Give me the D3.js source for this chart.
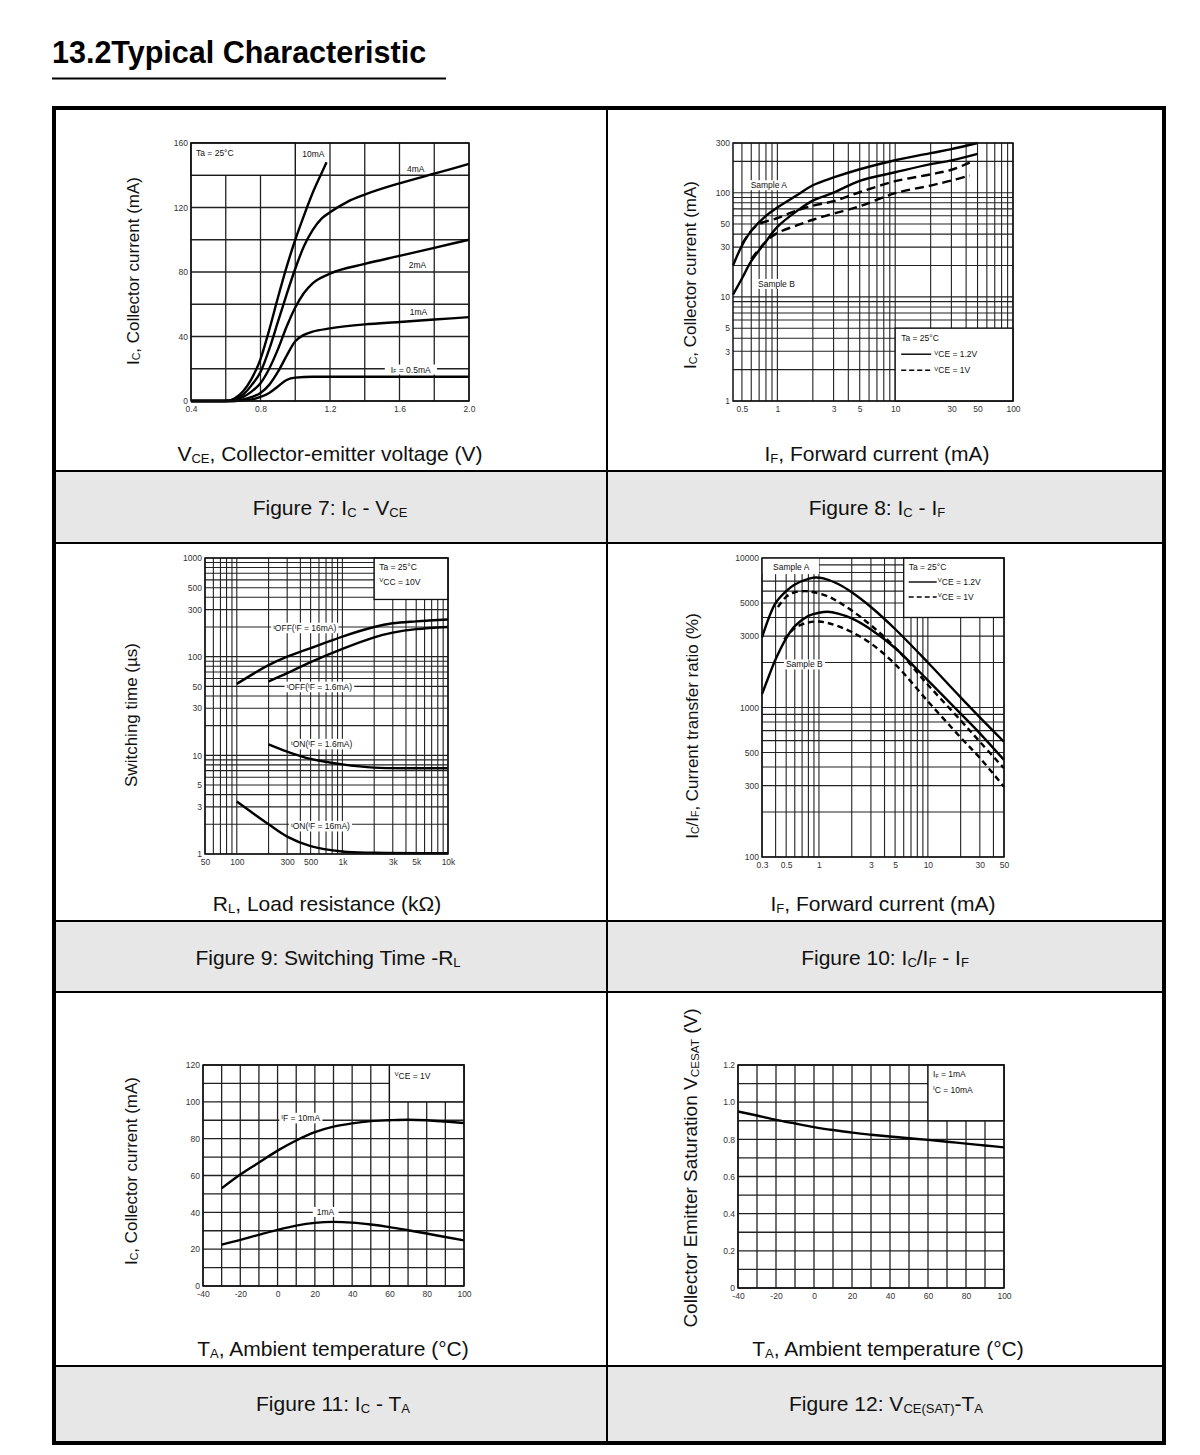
<!DOCTYPE html>
<html><head><meta charset="utf-8">
<script src="https://cdn.jsdelivr.net/npm/d3@7"></script>
<style>body{margin:0;background:#fff;} text{font-family:"Liberation Sans",Arial,sans-serif;white-space:pre;}</style>
</head><body>
<svg id="c" width="1200" height="1455"></svg>
<script>
// ---------------- DATA ----------------
// Figure 7: Ic - Vce
const f7_xTicks=[0.4,0.8,1.2,1.6,2.0];
const f7_xLabels=["0.4","0.8","1.2","1.6","2.0"];
const f7_yTicks=[0,40,80,120,160];
const f7_if10=[[0.4,0],[0.6,0],[0.65,1.5],[0.7,6],[0.75,14],[0.8,26],[0.85,44],[0.9,64],[0.95,83],[1.0,100],[1.05,115],[1.1,129],[1.15,141],[1.18,148]];
const f7_if4=[[0.4,0],[0.6,0],[0.65,1],[0.7,4],[0.75,10],[0.8,18],[0.85,32],[0.9,49],[0.95,66],[1.0,82],[1.05,96],[1.1,106],[1.15,113],[1.2,117],[1.3,123.5],[1.4,128],[1.6,135],[1.8,141],[2.0,147]];
const f7_if2=[[0.4,0],[0.62,0],[0.7,2.5],[0.75,6],[0.8,11],[0.85,20],[0.9,32],[0.95,46],[1.0,58],[1.05,67],[1.1,73],[1.2,79],[1.4,85],[1.6,90],[1.8,95],[2.0,100]];
const f7_if1=[[0.4,0],[0.64,0],[0.7,1],[0.75,2.5],[0.8,5],[0.85,10],[0.9,18],[0.95,28],[1.0,37],[1.05,41],[1.1,43],[1.2,45],[1.4,47.5],[1.6,49],[1.8,50.5],[2.0,52]];
const f7_if05=[[0.4,0],[0.65,0],[0.75,1],[0.8,2.5],[0.85,5],[0.9,9],[0.95,13],[1.0,14.5],[1.1,15],[2.0,15]];

// Figure 8: Ic - If
const f8_xTicks=[0.5,1,3,5,10,30,50,100];
const f8_yTicks=[1,3,5,10,30,50,100,300];
const f8_aSolid=[[0.42,20],[0.5,31],[0.6,43],[0.8,60],[1,72],[1.5,96],[2,118],[3,140],[5,168],[10,205],[20,240],[30,262],[50,300]];
const f8_bSolid=[[0.42,10.5],[0.5,15],[0.6,22],[0.8,34],[1,47],[1.5,68],[2,84],[3,100],[5,130],[10,157],[20,188],[30,204],[50,236]];
const f8_aDash=[[0.5,32],[0.66,48],[1,57],[1.5,68],[2,75],[3,83],[5,101],[10,129],[20,150],[30,166],[43,194]];
const f8_bDash=[[0.6,23],[0.8,34],[1,41],[1.5,49],[2,55],[3,63],[5,74],[10,99],[20,117],[30,131],[43,146]];

// Figure 9: Switching time - RL
const f9_xTicks=[50,100,300,500,1000,3000,5000,10000];
const f9_xLabels=["50","100","300","500","1k","3k","5k","10k"];
const f9_yTicks=[1,3,5,10,30,50,100,300,500,1000];
const f9_toff16=[[100,53],[200,82],[300,100],[500,122],[1000,160],[2000,200],[3000,218],[5000,228],[10000,238]];
const f9_toff1_6=[[200,56],[300,68],[500,88],[1000,120],[2000,157],[3000,175],[5000,190],[10000,200]];
const f9_ton1_6=[[200,12.9],[300,10.9],[500,9.2],[1000,8.1],[2000,7.5],[5000,7.4],[10000,7.4]];
const f9_ton16=[[100,3.4],[200,2.0],[300,1.5],[500,1.2],[1000,1.06],[2000,1.03],[10000,1.02]];

// Figure 10: Ic/If - If
const f10_xTicks=[0.3,0.5,1,3,5,10,30,50];
const f10_yTicks=[100,300,500,1000,3000,5000,10000];
const f10_aSolid=[[0.3,2950],[0.35,4050],[0.4,5000],[0.5,6000],[0.6,6650],[0.8,7250],[0.93,7400],[1.1,7300],[1.5,6700],[2,5900],[3,4700],[5,3350],[10,2000],[20,1170],[30,860],[50,590]];
const f10_bSolid=[[0.3,1230],[0.35,1650],[0.4,2100],[0.5,2900],[0.6,3500],[0.8,4100],[1,4300],[1.2,4370],[1.5,4250],[2,3950],[3,3330],[5,2500],[10,1520],[20,910],[30,672],[50,446]];
const f10_aDash=[[0.42,4700],[0.5,5500],[0.6,5900],[0.75,6000],[0.9,5900],[1.2,5550],[1.5,5100],[2,4450],[3,3550],[5,2520],[10,1420],[20,820],[30,590],[50,392]];
const f10_bDash=[[0.48,2850],[0.6,3400],[0.8,3700],[1,3760],[1.2,3680],[1.5,3500],[2,3200],[3,2680],[5,1950],[10,1100],[20,630],[30,460],[50,295]];

// Figure 11: Ic - Ta
const f11_xTicks=[-40,-20,0,20,40,60,80,100];
const f11_yTicks=[0,20,40,60,80,100,120];
const f11_if10=[[-30,53],[-20,60.5],[-10,67],[0,73.5],[10,79],[20,83.5],[30,86.5],[40,88.3],[50,89.5],[60,90],[70,90.3],[80,90],[90,89.3],[100,88.5]];
const f11_if1=[[-30,22.5],[-20,25],[-10,27.8],[0,30.5],[10,32.8],[20,34.3],[30,34.8],[40,34.4],[50,33.4],[60,32],[70,30.3],[80,28.5],[90,26.6],[100,24.8]];

// Figure 12: Vce(sat) - Ta
const f12_xTicks=[-40,-20,0,20,40,60,80,100];
const f12_yTicks=[0,0.2,0.4,0.6,0.8,1.0,1.2];
const f12_yLabels=["0","0.2","0.4","0.6","0.8","1.0","1.2"];
const f12_vce=[[-40,0.95],[-30,0.928],[-20,0.905],[-10,0.885],[0,0.866],[10,0.85],[20,0.836],[30,0.825],[40,0.815],[50,0.806],[60,0.797],[70,0.787],[80,0.777],[90,0.767],[100,0.757]];

// ---------------- DRAWING ----------------
const svg=d3.select("#c");
svg.append("rect").attr("width",1200).attr("height",1455).attr("fill","#fff");
const FONT='"Liberation Sans",Arial,sans-serif';

function logGrid(lo,hi){const out=[];for(let e=Math.floor(Math.log10(lo))-1;e<=Math.ceil(Math.log10(hi));e++){for(let m=1;m<10;m++){const v=m*Math.pow(10,e);if(v>=lo*0.9999&&v<=hi*1.0001)out.push(v);}}return out;}
function linGrid(lo,hi,step){return d3.range(lo,hi+step/2,step);}
function parseRich(s){const segs=[];const re=/([_^])\{([^}]*)\}/g;let last=0,m;while((m=re.exec(s))){if(m.index>last)segs.push({t:s.slice(last,m.index)});segs.push({t:m[2],k:m[1]});last=re.lastIndex;}if(last<s.length)segs.push({t:s.slice(last)});return segs;}
function rich(sel,s,size){let cur=0;parseRich(s).forEach(seg=>{let fs=size,sh=0;if(seg.k==="_"){fs=size*0.62;sh=size*0.08;}else if(seg.k==="^"){fs=size*0.72;sh=-size*0.3;}sel.append("tspan").attr("font-size",fs).attr("dy",sh-cur).text(seg.t);cur=sh;});return sel;}

// page frame
svg.append("text").attr("x",52).attr("y",63).attr("font-size",30.5).attr("font-weight","bold").attr("fill","#000").text("13.2Typical Characteristic");
svg.append("line").attr("x1",52).attr("x2",446).attr("y1",78.5).attr("y2",78.5).attr("stroke","#000").attr("stroke-width",2);
const bands=[[471,543],[921,992],[1366,1442]];
bands.forEach(b=>svg.append("rect").attr("x",54).attr("y",b[0]).attr("width",1110).attr("height",b[1]-b[0]).attr("fill","#e7e7e7"));
[471,543,921,992,1366].forEach(yy=>svg.append("line").attr("x1",54).attr("x2",1164).attr("y1",yy).attr("y2",yy).attr("stroke","#000").attr("stroke-width",2));
svg.append("line").attr("x1",607).attr("x2",607).attr("y1",108).attr("y2",1443).attr("stroke","#000").attr("stroke-width",2);
svg.append("rect").attr("x",54).attr("y",108).attr("width",1110).attr("height",1335).attr("fill","none").attr("stroke","#000").attr("stroke-width",4);

function panel(c){
  const [x0,x1,y0,y1]=c.box;
  const x=(c.xLog?d3.scaleLog():d3.scaleLinear()).domain(c.xDomain).range([x0,x1]);
  const y=(c.yLog?d3.scaleLog():d3.scaleLinear()).domain(c.yDomain).range([y1,y0]);
  const g=svg.append("g");
  const gc=c.gridColor||"#222", gw=c.gridWidth||1.1;
  g.append("rect").attr("x",x0).attr("y",y0).attr("width",x1-x0).attr("height",y1-y0).attr("fill","#fff");
  g.append("g").selectAll("line").data(c.xGrid).join("line").attr("x1",d=>x(d)).attr("x2",d=>x(d)).attr("y1",y0).attr("y2",y1).attr("stroke",gc).attr("stroke-width",gw);
  g.append("g").selectAll("line").data(c.yGrid).join("line").attr("y1",d=>y(d)).attr("y2",d=>y(d)).attr("x1",x0).attr("x2",x1).attr("stroke",gc).attr("stroke-width",gw);
  const gBox=g.append("g"), gBg=g.append("g"), gCurve=g.append("g"), gText=g.append("g");
  const fs=8.5;
  (c.boxes||[]).forEach(b=>{
    const bx=x(b.x[0]),bx2=x(b.x[1]),by=y(b.y[1]),by2=y(b.y[0]);
    gBox.append("rect").attr("x",bx).attr("y",by).attr("width",bx2-bx).attr("height",by2-by).attr("fill","#fff").attr("stroke",b.stroke?"#111":"none").attr("stroke-width",1.3);
    (b.items||[]).forEach(it=>{
      if(it.line){gText.append("line").attr("x1",bx+it.dx).attr("x2",bx+it.dx+it.w).attr("y1",by+it.dy).attr("y2",by+it.dy).attr("stroke","#000").attr("stroke-width",1.4).attr("stroke-dasharray",it.dash?"5,3":null);}
      else rich(gText.append("text").attr("x",bx+it.dx).attr("y",by+it.dy).attr("font-size",fs).attr("fill","#111"),it.t,fs);
    });
  });
  const line=d3.line().x(d=>x(d[0])).y(d=>y(d[1])).curve(c.smooth?d3.curveCatmullRom.alpha(0.5):d3.curveMonotoneX);
  c.series.forEach(s=>gCurve.append("path").attr("d",line(s.data)).attr("fill","none").attr("stroke","#000").attr("stroke-width",2.4).attr("stroke-dasharray",s.dash?c.dash:null));
  (c.labels||[]).forEach(l=>{
    const t=rich(gText.append("text").attr("x",x(l.x)).attr("y",y(l.y)+fs*0.35).attr("font-size",fs).attr("fill","#111"),l.t,fs);
    if(l.bg){const bb=t.node().getBBox();const p=l.pad||2;gBg.append("rect").attr("x",bb.x-p).attr("y",bb.y).attr("width",bb.width+2*p).attr("height",bb.height).attr("fill","#fff");}
  });
  g.append("rect").attr("x",x0).attr("y",y0).attr("width",x1-x0).attr("height",y1-y0).attr("fill","none").attr("stroke","#111").attr("stroke-width",1.5);
  const ax=d3.axisBottom(x).tickValues(c.xTicks).tickFormat((d,i)=>c.xLabels?c.xLabels[i]:String(d)).tickSize(0).tickPadding(5);
  const ay=d3.axisLeft(y).tickValues(c.yTicks).tickFormat((d,i)=>c.yLabels?c.yLabels[i]:String(d)).tickSize(0).tickPadding(3);
  const gx=g.append("g").attr("transform",`translate(0,${y1})`).call(ax);
  const gy=g.append("g").attr("transform",`translate(${x0},0)`).call(ay);
  [gx,gy].forEach(a=>{a.select(".domain").remove();a.selectAll("text").attr("font-size",fs).attr("font-family",FONT).attr("fill","#333");});
  // titles
  rich(svg.append("text").attr("x",c.xt[0]).attr("y",c.xt[1]).attr("text-anchor","middle").attr("font-size",21).attr("fill","#111"),c.xTitle,21);
  const ys=c.ySize||17;
  rich(svg.append("text").attr("transform",`translate(${c.yt[0]},${c.yt[1]}) rotate(-90)`).attr("text-anchor","middle").attr("font-size",ys).attr("fill","#111"),c.yTitle,ys);
  rich(svg.append("text").attr("x",c.cap[0]).attr("y",c.cap[1]).attr("text-anchor","middle").attr("font-size",21).attr("fill","#111"),c.caption,21);
}

panel({box:[191,469,143,401],xDomain:[0.4,2.0],yDomain:[0,160],
  xGrid:linGrid(0.4,2.0,0.2),yGrid:linGrid(0,160,20),xTicks:f7_xTicks,xLabels:f7_xLabels,yTicks:f7_yTicks,gridWidth:1.3,
  boxes:[{x:[0.4,1.0],y:[140,160],stroke:true,items:[{dx:5,dy:13,t:"Ta = 25°C"}]}],
  series:[{data:f7_if10},{data:f7_if4},{data:f7_if2},{data:f7_if1},{data:f7_if05}],
  labels:[{x:1.04,y:153,t:"10mA"},{x:1.643,y:144,t:"4mA",bg:true},{x:1.653,y:84.3,t:"2mA"},{x:1.659,y:55,t:"1mA"},{x:1.55,y:19.5,t:"I_{F} = 0.5mA",bg:true,pad:6}],
  xTitle:"V_{CE}, Collector-emitter voltage (V)",xt:[330,461],yTitle:"I_{C}, Collector current (mA)",yt:[139,271],caption:"Figure 7: I_{C} - V_{CE}",cap:[330,515]});

panel({box:[733,1013,143,401],xLog:true,yLog:true,smooth:true,xDomain:[0.42,100],yDomain:[1,300],
  xGrid:logGrid(0.42,100),yGrid:logGrid(1,300),xTicks:f8_xTicks,yTicks:f8_yTicks,dash:"9,5",
  boxes:[{x:[10,100],y:[1,5],stroke:true,items:[{dx:6,dy:13,t:"Ta = 25°C"},{line:true,dx:6,dy:26,w:30},{dx:39,dy:29,t:"^{V}CE = 1.2V"},{line:true,dash:true,dx:6,dy:42,w:30},{dx:39,dy:45,t:"^{V}CE = 1V"}]}],
  series:[{data:f8_aSolid},{data:f8_bSolid},{data:f8_aDash,dash:true},{data:f8_bDash,dash:true}],
  labels:[{x:0.593,y:118,t:"Sample A",bg:true},{x:0.685,y:13.3,t:"Sample B",bg:true}],
  xTitle:"I_{F}, Forward current (mA)",xt:[877,461],yTitle:"I_{C}, Collector current (mA)",yt:[696,275],caption:"Figure 8: I_{C} - I_{F}",cap:[877,515]});

panel({box:[205,448,558,854],xLog:true,yLog:true,smooth:true,xDomain:[50,10000],yDomain:[1,1000],
  xGrid:logGrid(50,10000),yGrid:logGrid(1,1000),xTicks:f9_xTicks,xLabels:f9_xLabels,yTicks:f9_yTicks,
  boxes:[{x:[2000,10000],y:[380,1000],stroke:true,items:[{dx:5,dy:12,t:"Ta = 25°C"},{dx:5,dy:27,t:"^{V}CC = 10V"}]}],
  series:[{data:f9_toff16},{data:f9_toff1_6},{data:f9_ton1_6},{data:f9_ton16}],
  labels:[{x:221,y:194,t:"^{t}OFF(^{I}F = 16mA)",bg:true},{x:296,y:49,t:"^{t}OFF(^{I}F = 1.6mA)",bg:true},{x:326,y:12.9,t:"^{t}ON(^{I}F = 1.6mA)",bg:true},{x:326,y:1.9,t:"^{t}ON(^{I}F = 16mA)",bg:true}],
  xTitle:"R_{L}, Load resistance (kΩ)",xt:[327,911],yTitle:"Switching time (µs)",yt:[137,715],caption:"Figure 9: Switching Time -R_{L}",cap:[328,965]});

panel({box:[762,1004,558,857],xLog:true,yLog:true,smooth:true,xDomain:[0.3,50],yDomain:[100,10000],
  xGrid:logGrid(0.3,50),yGrid:logGrid(100,10000),xTicks:f10_xTicks,yTicks:f10_yTicks,dash:"6,4",
  boxes:[{x:[0.3,1],y:[7800,10000],stroke:false,items:[{dx:11,dy:12,t:"Sample A"}]},
         {x:[6,50],y:[4000,10000],stroke:true,items:[{dx:5,dy:12,t:"Ta = 25°C"},{line:true,dx:5,dy:24,w:28},{dx:34,dy:27,t:"^{V}CE = 1.2V"},{line:true,dash:true,dx:5,dy:39,w:28},{dx:34,dy:42,t:"^{V}CE = 1V"}]}],
  series:[{data:f10_aSolid},{data:f10_bSolid},{data:f10_aDash,dash:true},{data:f10_bDash,dash:true}],
  labels:[{x:0.497,y:1940,t:"Sample B",bg:true}],
  xTitle:"I_{F}, Forward current (mA)",xt:[883,911],yTitle:"I_{C}/I_{F}, Current transfer ratio (%)",yt:[698,726],caption:"Figure 10: I_{C}/I_{F} - I_{F}",cap:[885,965]});

panel({box:[203,464,1065,1286],xDomain:[-40,100],yDomain:[0,120],
  xGrid:linGrid(-40,100,10),yGrid:linGrid(0,120,10),xTicks:f11_xTicks,yTicks:f11_yTicks,gridWidth:1.3,
  boxes:[{x:[60,100],y:[100,120],stroke:true,items:[{dx:5,dy:14,t:"^{V}CE = 1V"}]}],
  series:[{data:f11_if10},{data:f11_if1}],
  labels:[{x:2,y:91,t:"^{I}F = 10mA",bg:true},{x:21,y:40.2,t:"1mA",bg:true,pad:4}],
  xTitle:"T_{A}, Ambient temperature (°C)",xt:[333,1356],yTitle:"I_{C}, Collector current (mA)",yt:[137,1171],caption:"Figure 11: I_{C} - T_{A}",cap:[333,1411]});

panel({box:[738,1004,1065,1288],xDomain:[-40,100],yDomain:[0,1.2],
  xGrid:linGrid(-40,100,10),yGrid:linGrid(0,1.2,0.1),xTicks:f12_xTicks,yTicks:f12_yTicks,yLabels:f12_yLabels,gridWidth:1.3,
  boxes:[{x:[60,100],y:[0.9,1.2],stroke:true,items:[{dx:5,dy:12,t:"I_{F} = 1mA"},{dx:5,dy:28,t:"^{I}C = 10mA"}]}],
  series:[{data:f12_vce}],
  labels:[],ySize:19,
  xTitle:"T_{A}, Ambient temperature (°C)",xt:[888,1356],yTitle:"Collector Emitter Saturation V_{CESAT} (V)",yt:[697,1168],caption:"Figure 12: V_{CE(SAT)}-T_{A}",cap:[886,1411]});
</script>
</body></html>
